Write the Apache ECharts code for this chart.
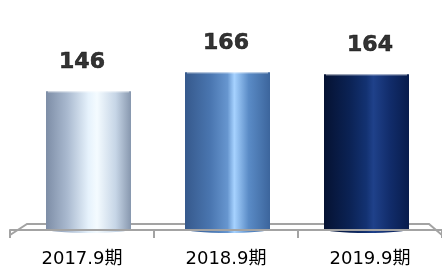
<!DOCTYPE html>
<html>
<head>
    <meta charset="utf-8" />
    <title>ECharts</title>
    <style>
        html, body { margin: 0; padding: 0; background: #fff; }
        #main { width: 442px; height: 270px; }
    </style>
    <script src="https://cdn.jsdelivr.net/npm/echarts@6/dist/echarts.min.js"></script>
</head>
<body>
    <div id="main"></div>
    <script type="text/javascript">
        // data
        var categories = ['2017.9期', '2018.9期', '2019.9期'];
        var values = [146, 166, 164];

        // one gradient per bar (left -> right across the cylinder)
        var barColors = [
            [['#7d8da6', 0], ['#a9b9cf', 0.25], ['#e6f2fc', 0.5], ['#f4fbff', 0.6], ['#c6d5e6', 0.82], ['#8797ae', 1]],
            [['#36598c', 0], ['#4a76b0', 0.3], ['#6796cf', 0.5], ['#a6d2ff', 0.58], ['#5a8bc6', 0.75], ['#3c659c', 1]],
            [['#051232', 0], ['#0b2254', 0.3], ['#133272', 0.5], ['#1f418a', 0.58], ['#112c6a', 0.78], ['#081c4c', 1]]
        ];

        var myChart = echarts.init(document.getElementById('main'));

        function renderCylinder(params, api) {
            var idx = api.value(0);
            var top = api.coord([idx, api.value(1)]);
            var base = api.coord([idx, 0]);
            var w = 85;
            var x0 = top[0] - w / 2;
            var x1 = top[0] + w / 2;
            var ry = 4;
            var stops = barColors[params.dataIndex].map(function (s) {
                return { offset: s[1], color: s[0] };
            });
            var path = 'M' + x0 + ',' + top[1] + ' L' + x1 + ',' + top[1] +
                ' L' + x1 + ',' + (base[1] - 1) +
                ' A' + (w / 2) + ',' + ry + ' 0 0 1 ' + x0 + ',' + (base[1] - 1) + ' Z';
            return {
                type: 'group',
                children: [
                    {
                        type: 'path',
                        shape: { pathData: path },
                        style: { fill: new echarts.graphic.LinearGradient(0, 0, 1, 0, stops) }
                    },
                    {
                        type: 'line',
                        shape: { x1: x0 + 2, y1: top[1] + 0.5, x2: x1 - 2, y2: top[1] + 0.5 },
                        style: { stroke: 'rgba(255,255,255,0.45)', lineWidth: 1.5 }
                    }
                ]
            };
        }

        var option = {
            animation: false,
            grid: [
                { left: 19, right: 6, top: 40, bottom: 40 },
                { left: 10, right: -4.5, top: 40, bottom: 40 }
            ],
            xAxis: [
                {
                    type: 'category', gridIndex: 0, data: categories,
                    axisLine: { show: false }, axisTick: { show: false }, axisLabel: { show: false }
                },
                {
                    type: 'category', gridIndex: 1, data: categories, offset: 5, z: 5,
                    axisLine: { show: true, lineStyle: { color: '#a3a3a3', width: 2 } },
                    axisTick: { show: true, interval: 0, alignWithLabel: false, length: 8, lineStyle: { color: '#a3a3a3', width: 2 } },
                    axisLabel: {
                        margin: 15, color: '#000', fontSize: 18,
                        fontFamily: 'DejaVu Sans, Noto Sans CJK JP'
                    }
                }
            ],
            yAxis: [
                { type: 'value', gridIndex: 0, min: 0, max: 200, show: false },
                { type: 'value', gridIndex: 1, min: 0, max: 200, show: false }
            ],
            graphic: [
                {
                    type: 'polyline', z: -1, silent: true,
                    shape: { points: [[10, 235], [27, 224], [429, 224], [442, 235]] },
                    style: { fill: null, stroke: '#a3a3a3', lineWidth: 2 }
                }
            ],
            series: [
                {
                    type: 'custom',
                    xAxisIndex: 0, yAxisIndex: 0,
                    renderItem: renderCylinder,
                    data: values.map(function (v, i) { return [i, v]; }),
                    z: 3
                },
                {
                    type: 'scatter',
                    xAxisIndex: 1, yAxisIndex: 1,
                    symbolSize: 0,
                    itemStyle: { color: 'transparent' },
                    data: values,
                    label: {
                        show: true, position: 'top', distance: 18,
                        color: '#000', fontSize: 22, fontWeight: 'bold',
                        fontFamily: 'DejaVu Sans',
                        textBorderColor: '#000', textBorderWidth: 0.6
                    },
                    z: 4
                }
            ]
        };
        myChart.setOption(option);
    </script>
</body>
</html>
